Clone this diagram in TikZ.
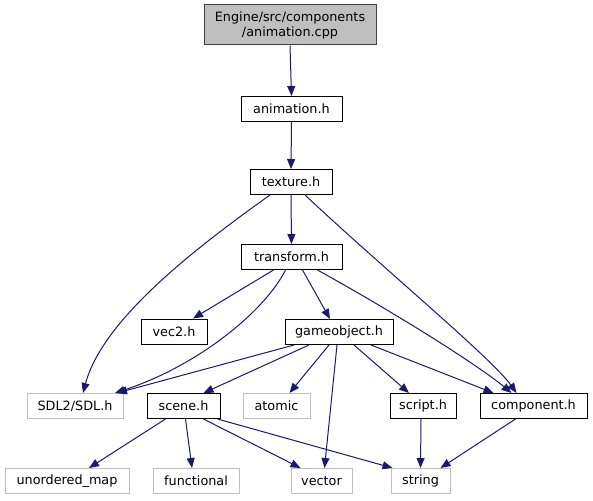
\documentclass[tikz,border=0pt]{standalone}
\usepackage{fontspec}
\setmainfont{DejaVu Sans}
\usetikzlibrary{arrows.meta}
\definecolor{edgecol}{HTML}{191970}
\definecolor{greyline}{HTML}{BFBFBF}
\begin{document}
\begin{tikzpicture}[x=1pt,y=-1pt,
  box/.style={draw=black, line width=1pt, inner sep=0pt, minimum height=25pt, font=\fontsize{12.8}{15}\selectfont, text=black},
  sysbox/.style={box, draw=greyline},
  topbox/.style={box, fill=greyline, draw=black!75, align=center, minimum height=40pt},
  dep/.style={draw=edgecol, line width=1pt, -{Triangle[length=10pt,width=8pt]}, fill=none}
]
\useasboundingbox (0,0) rectangle (593,500);
\node[topbox, minimum width=172pt] (cpp) at (290,25) {Engine/src/components\\/animation.cpp};
\node[box, minimum width=101pt] (anim) at (291.5,109) {animation.h};
\node[box, minimum width=82pt] (tex) at (291,182) {texture.h};
\node[box, minimum width=101pt] (trans) at (291.5,257) {transform.h};
\node[box, minimum width=66pt] (vec2) at (174,331.5) {vec2.h};
\node[box, minimum width=108pt] (game) at (339,332) {gameobject.h};
\node[sysbox, minimum width=96pt] (sdl) at (75,406) {SDL2/SDL.h};
\node[box, minimum width=73pt] (scene) at (183.5,406) {scene.h};
\node[sysbox, minimum width=67pt] (atomic) at (276.5,406) {atomic};
\node[box, minimum width=66pt] (script) at (423,406) {script.h};
\node[box, minimum width=107pt] (comp) at (533.5,406) {component.h};
\node[sysbox, minimum width=124pt] (umap) at (67,481) {unordered\_map};
\node[sysbox, minimum width=86pt] (func) at (196,481) {functional};
\node[sysbox, minimum width=61pt] (vector) at (321.5,481) {vector};
\node[sysbox, minimum width=59pt] (string) at (420.5,481) {string};

\draw[dep] (cpp.south) -- (anim.north);
\draw[dep] (anim.south) -- (tex.north);
\draw[dep] (tex.south) -- (trans.north);
\draw[dep] ([xshift=-21pt]tex.south) .. controls +(-70,50) and +(20,-75) .. ([xshift=8pt]sdl.north);
\draw[dep] ([xshift=14pt]tex.south) .. controls +(80,75) and +(-25,-35) .. ([xshift=-17pt]comp.north);
\draw[dep] ([xshift=-18pt]trans.south) -- ([xshift=19pt]vec2.north);
\draw[dep] ([xshift=-6pt]trans.south) .. controls +(-20,40) and +(85,-28) .. ([xshift=40pt]sdl.north);
\draw[dep] ([xshift=11pt]trans.south) -- ([xshift=-9pt]game.north);
\draw[dep] ([xshift=26pt]trans.south) .. controls +(90,50) and +(-30,-25) .. ([xshift=-22pt]comp.north);
\draw[dep] ([xshift=-45pt]game.south) -- ([xshift=42pt]sdl.north);
\draw[dep] ([xshift=-30pt]game.south) -- ([xshift=20pt]scene.north);
\draw[dep] ([xshift=-10pt]game.south) -- ([xshift=13pt]atomic.north);
\draw[dep] ([xshift=-2pt]game.south) -- ([xshift=3pt]vector.north);
\draw[dep] ([xshift=15pt]game.south) -- ([xshift=-14pt]script.north);
\draw[dep] ([xshift=32pt]game.south) -- ([xshift=-40pt]comp.north);
\draw[dep] ([xshift=-18pt]scene.south) -- ([xshift=22pt]umap.north);
\draw[dep] ([xshift=2pt]scene.south) -- ([xshift=-4pt]func.north);
\draw[dep] ([xshift=20pt]scene.south) -- ([xshift=-21pt]vector.north);
\draw[dep] ([xshift=34pt]scene.south) -- ([xshift=-28pt]string.north);
\draw[dep] ([xshift=-2pt]script.south) -- (string.north);
\draw[dep] ([xshift=-18pt]comp.south) -- ([xshift=20pt]string.north);
\end{tikzpicture}
\end{document}
